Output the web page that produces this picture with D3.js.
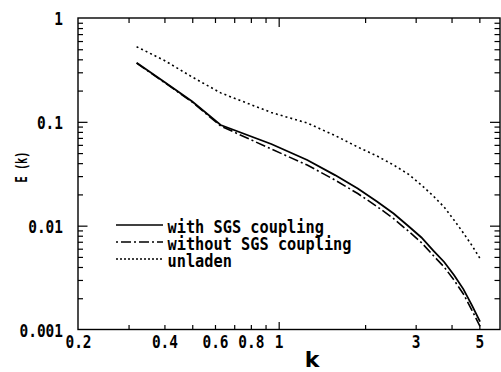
<!DOCTYPE html>
<html>
<head>
<meta charset="utf-8">
<script src="https://cdn.jsdelivr.net/npm/d3@7"></script>
<style>
  body { margin: 0; background: #fff; }
  svg { display: block; }
</style>
</head>
<body>
<svg id="draw-here"></svg>
<script>
// wavenumbers
const kValues = [0.32, 0.4, 0.5, 0.628, 0.942, 1.257, 1.571, 1.885, 2.199, 2.513, 2.827, 3.142, 3.456, 3.770, 4.084, 4.398, 4.712, 5.027];
const withSGS = [0.371, 0.242, 0.157, 0.0932, 0.0612, 0.0429, 0.0307, 0.0228, 0.0171, 0.0131, 0.00992, 0.00769, 0.00576, 0.00447, 0.00333, 0.00245, 0.00171, 0.00119];
const withoutSGS = [0.368, 0.239, 0.155, 0.0912, 0.0547, 0.0384, 0.0275, 0.0204, 0.0153, 0.0117, 0.00888, 0.00688, 0.00516, 0.0040, 0.00298, 0.0022, 0.00153, 0.00107];
const unladen = [0.529, 0.390, 0.270, 0.190, 0.123, 0.0974, 0.0738, 0.0572, 0.0469, 0.0384, 0.0314, 0.0246, 0.0193, 0.0151, 0.0113, 0.0085, 0.00644, 0.00483];

const xLabels = [0.2, 0.4, 0.6, 0.8, 1, 3, 5];
const xMinor = [0.3, 0.4, 0.5, 0.6, 0.7, 0.8, 0.9, 2, 3, 4, 5];
const yLabels = [1, 0.1, 0.01, 0.001];
const legendNames = ["with SGS coupling", "without SGS coupling", "unladen"];

const W = 501, H = 372;
const mLeft = 78, mRight = 500, mTop = 18, mBottom = 329.5;
const monoFont = "'DejaVu Sans Mono', 'Liberation Mono', monospace";

let svg = d3.select('#draw-here').attr('width', W).attr('height', H);

let x = d3.scaleLog().domain([0.2, 5.9]).range([mLeft, mRight]);
let y = d3.scaleLog().domain([0.001, 1]).range([mBottom, mTop]);

// minor ticks on y: 2..9 of each decade
let yMinor = [];
[0.001, 0.01, 0.1].forEach(function(d) {
  for (let i = 2; i <= 9; i++) yMinor.push(d * i);
});

function noDomain(g) { g.select('.domain').remove(); }

// ticks, all pointing inwards
svg.append('g').attr('transform', `translate(0,${mBottom})`)
  .call(d3.axisBottom(x).tickValues(xMinor).tickSize(-4.5).tickFormat('')).call(noDomain);
svg.append('g').attr('transform', `translate(0,${mBottom})`)
  .call(d3.axisBottom(x).tickValues([1]).tickSize(-7.5).tickFormat('')).call(noDomain);
svg.append('g').attr('transform', `translate(0,${mTop})`)
  .call(d3.axisTop(x).tickValues(xMinor).tickSize(-5).tickFormat('')).call(noDomain);
svg.append('g').attr('transform', `translate(0,${mTop})`)
  .call(d3.axisTop(x).tickValues([1]).tickSize(-9).tickFormat('')).call(noDomain);
svg.append('g').attr('transform', `translate(${mLeft},0)`)
  .call(d3.axisLeft(y).tickValues(yMinor).tickSize(-5).tickFormat('')).call(noDomain);
svg.append('g').attr('transform', `translate(${mLeft},0)`)
  .call(d3.axisLeft(y).tickValues([0.1, 0.01]).tickSize(-9.5).tickFormat('')).call(noDomain);
svg.append('g').attr('transform', `translate(${mRight},0)`)
  .call(d3.axisRight(y).tickValues(yMinor).tickSize(-5.5).tickFormat('')).call(noDomain);
svg.append('g').attr('transform', `translate(${mRight},0)`)
  .call(d3.axisRight(y).tickValues([0.1, 0.01]).tickSize(-10).tickFormat('')).call(noDomain);

svg.selectAll('.tick line').attr('stroke', '#000').attr('stroke-width', 1.2);

// frame
svg.append('rect')
  .attr('x', mLeft).attr('y', mTop)
  .attr('width', mRight - mLeft).attr('height', mBottom - mTop)
  .attr('fill', 'none').attr('stroke', '#000').attr('stroke-width', 1.4);

// tick labels
let xl = svg.append('g').attr('transform', `translate(0,${mBottom})`)
  .call(d3.axisBottom(x).tickValues(xLabels).tickSize(0).tickPadding(5.5).tickFormat(d => String(d)))
  .call(noDomain);
let yl = svg.append('g').attr('transform', `translate(${mLeft},0)`)
  .call(d3.axisLeft(y).tickValues(yLabels).tickSize(0).tickPadding(15).tickFormat(d => String(d)))
  .call(noDomain);

[xl, yl].forEach(function(g) {
  g.attr('font-family', null).attr('font-size', null);
  g.selectAll('text')
    .attr('font-family', monoFont)
    .attr('font-size', 18.5)
    .attr('font-weight', 'bold')
    .attr('fill', '#000')
    .attr('lengthAdjust', 'spacingAndGlyphs')
    .attr('textLength', function(d) { return String(d).length * 8.7; });
});
yl.selectAll('text').attr('dy', '0.36em');

// axis titles
svg.append('text')
  .attr('x', 312).attr('y', 366.5)
  .attr('text-anchor', 'middle')
  .attr('font-family', "'DejaVu Sans', sans-serif")
  .attr('font-size', 22)
  .attr('font-weight', 'bold')
  .text('k');
svg.append('text')
  .attr('transform', 'translate(26.5,167) rotate(-90)')
  .attr('text-anchor', 'middle')
  .attr('font-family', monoFont)
  .attr('font-size', 15)
  .attr('font-weight', 'bold')
  .attr('lengthAdjust', 'spacingAndGlyphs')
  .attr('textLength', 31)
  .text('E (k)');

// curves
let line = d3.line()
  .x(d => x(d[0]))
  .y(d => y(d[1]));

let series = [
  { name: legendNames[2], values: unladen, dash: '2,3', width: 1.6 },
  { name: legendNames[1], values: withoutSGS, dash: '10,3,2,3', width: 1.6 },
  { name: legendNames[0], values: withSGS, dash: null, width: 1.8 }
];

svg.append('g').selectAll('path')
  .data(series)
  .enter().append('path')
  .attr('d', s => line(kValues.map((k, i) => [k, s.values[i]])))
  .attr('fill', 'none')
  .attr('stroke', '#000')
  .attr('stroke-width', s => s.width)
  .attr('stroke-dasharray', s => s.dash);

// legend
let legendStyles = [
  { dash: null, width: 1.7 },
  { dash: '2,3,10,3', width: 1.5 },
  { dash: '2,2', width: 1.3 }
];
let legend = svg.append('g');
legendNames.forEach(function(name, i) {
  let base = 233 + i * 17;
  legend.append('line')
    .attr('x1', 116).attr('x2', 163)
    .attr('y1', base - 8).attr('y2', base - 8)
    .attr('stroke', '#000')
    .attr('stroke-width', legendStyles[i].width)
    .attr('stroke-dasharray', legendStyles[i].dash);
  legend.append('text')
    .attr('x', 167.5).attr('y', base)
    .attr('font-family', monoFont)
    .attr('font-size', 17)
    .attr('font-weight', 'bold')
    .attr('lengthAdjust', 'spacingAndGlyphs')
    .attr('textLength', name.length * 9.2)
    .text(name);
});
</script>
</body>
</html>
